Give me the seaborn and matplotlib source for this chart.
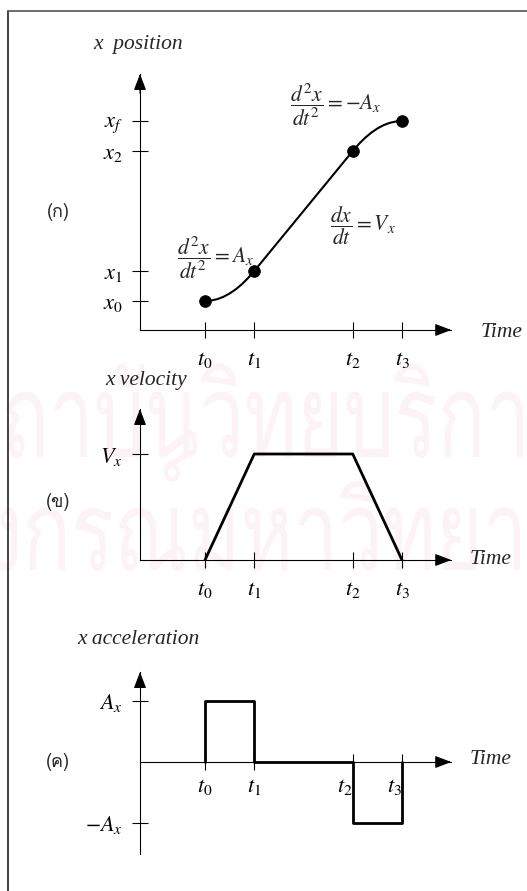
import matplotlib
matplotlib.use("Agg")
import matplotlib.pyplot as plt
from matplotlib import font_manager
from matplotlib.ft2font import FT2Font
from matplotlib.lines import Line2D
from matplotlib.textpath import TextPath
from matplotlib.patches import PathPatch
from matplotlib.transforms import Affine2D, IdentityTransform
import seaborn as sns

# Time instants of the motion profile
t_names = [r"$t_0$", r"$t_1$", r"$t_2$", r"$t_3$"]
t_points = [0.0, 1.0, 3.0, 4.0]

# (a) position: accelerating arc, constant-velocity line, decelerating arc
pos_t = [0.0, 0.125, 0.25, 0.375, 0.5, 0.625, 0.75, 0.875, 1.0,
         3.0, 3.125, 3.25, 3.375, 3.5, 3.625, 3.75, 3.875, 4.0]
pos_x = [0.0, 0.008, 0.031, 0.07, 0.125, 0.195, 0.281, 0.383, 0.5,
         2.5, 2.617, 2.719, 2.805, 2.875, 2.93, 2.969, 2.992, 3.0]
pos_levels = [0.0, 0.5, 2.5, 3.0]
pos_names = [r"$x_0$", r"$x_1$", r"$x_2$", r"$x_f$"]

# (b) velocity trapezoid
vel_t = [0.0, 1.0, 3.0, 4.0]
vel_v = [0.0, 1.0, 1.0, 0.0]
vel_levels = [1.0]
vel_names = [r"$V_x$"]

# (c) acceleration pulses
acc_t = [0.0, 0.0, 1.0, 1.0, 3.0, 3.0, 4.0, 4.0]
acc_a = [0.0, 1.0, 1.0, 0.0, 0.0, -1.0, -1.0, 0.0]
acc_levels = [1.0, -1.0]
acc_names = [r"$A_x$", r"$-A_x$"]

panel_tags = ["(ก)", "(ข)", "(ค)"]
panel_titles = ["x  position", "x velocity", "x acceleration"]
watermark_lines = ["สถาบันวิทยบริการ", "จุฬาลงกรณ์มหาวิทยาลัย"]


def thai_family(preferred=("Loma", "Anuphan", "FreeSerif")):
    found = []
    for f in font_manager.fontManager.ttflist:
        try:
            if FT2Font(f.fname).get_char_index(ord("ก")):
                found.append(f.name)
        except Exception:
            pass
    for name in preferred:
        if name in found:
            return name
    return found[0] if found else "DejaVu Sans"


sns.set_style("white")
plt.rcParams["mathtext.fontset"] = "stix"
plt.rcParams["font.family"] = ["DejaVu Sans"]
THAI = thai_family()

W, H = 527, 891
fig = plt.figure(figsize=(W / 100, H / 100), dpi=100)
fig.patch.set_facecolor("white")

# pale library watermark behind the diagrams, drawn as tall condensed glyphs
wm_prop = font_manager.FontProperties(family=THAI)
ref_box = TextPath((0, 0), "นนนนนนนนนน", size=1, prop=wm_prop).get_extents()
sx = 54.0 / (ref_box.width / 10)
for text, prefix, anchor_px, base_px, body_px in [
        (watermark_lines[0], "สถาบันวิทยบริกา", 523, 457, 66),
        (watermark_lines[1], "จุฬาลง", 17, 570, 63)]:
    sy = body_px / ref_box.height
    pre_w = TextPath((0, 0), prefix, size=1, prop=wm_prop).get_extents().x1 * sx
    x0 = anchor_px - pre_w
    path = TextPath((0, 0), text, size=1, prop=wm_prop)
    tr = Affine2D().scale(sx, sy).translate(x0, H - base_px) + IdentityTransform()
    fig.add_artist(PathPatch(path, transform=tr, facecolor="#fdf3f6",
                             edgecolor="none", zorder=-10))

T0_PX, PX_PER_T = 205.0, 49.25
X_LEFT, X_RIGHT = 140.0, 470.0
T_ARROW = 5.0
xlim = ((X_LEFT - T0_PX) / PX_PER_T, (X_RIGHT - T0_PX) / PX_PER_T)


def make_axes(top_px, bottom_px, zero_px, px_per_unit):
    ax = fig.add_axes([X_LEFT / W, 1 - bottom_px / H,
                       (X_RIGHT - X_LEFT) / W, (bottom_px - top_px) / H])
    ax.set_facecolor("none")
    ax.set_xlim(*xlim)
    ax.set_ylim((zero_px - bottom_px) / px_per_unit, (zero_px - top_px) / px_per_unit)
    return ax


def style_axes(ax, y_base, ylevels, ynames):
    for side in ("top", "right"):
        ax.spines[side].set_visible(False)
    for side in ("left", "bottom"):
        ax.spines[side].set_color("black")
        ax.spines[side].set_linewidth(0.8)
    ax.spines["bottom"].set_position(("data", y_base))
    ax.spines["bottom"].set_bounds(xlim[0], T_ARROW)
    ax.set_xticks(t_points, t_names)
    ax.set_yticks(ylevels, ynames)
    ax.tick_params(axis="both", direction="inout", length=11, width=0.8,
                   colors="black", labelsize=16, bottom=True, left=True)
    ax.tick_params(axis="x", pad=9)
    ax.tick_params(axis="y", pad=7)
    y0, y1 = ax.get_ylim()
    head = dict(arrowstyle="-|>,head_length=1.0,head_width=0.38",
                color="black", lw=0.8, shrinkA=0, shrinkB=0)
    ax.annotate("", xy=(T_ARROW, y_base), xytext=(T_ARROW - 0.3, y_base),
                arrowprops=head, annotation_clip=False)
    ax.annotate("", xy=(xlim[0], y1), xytext=(xlim[0], y1 - 0.3 * (y1 - y0) / 4),
                arrowprops=head, annotation_clip=False)


def fig_text(x, y, s, **kw):
    fig.text(x / W, 1 - y / H, s, **kw)


serif_it = dict(family="Liberation Serif", style="italic", fontsize=15.5, va="center")

# (a) position
ax1 = make_axes(74, 330, 301, 60)
style_axes(ax1, ax1.get_ylim()[0], pos_levels, pos_names)
sns.lineplot(x=pos_t, y=pos_x, ax=ax1, sort=False,
             estimator=None, color="black", lw=1.5)
sns.scatterplot(x=t_points, y=pos_levels, ax=ax1, s=70, color="black",
                edgecolor="black", zorder=5, clip_on=False)
ax1.text(1.73, 3.28, r"$\dfrac{d^2x}{dt^2}=-A_x$", fontsize=15.5, va="center")
ax1.text(2.54, 1.25, r"$\dfrac{dx}{dt}=V_x$", fontsize=15.5, va="center")
ax1.text(-0.57, 0.73, r"$\dfrac{d^2x}{dt^2}=A_x$", fontsize=15.5, va="center")

# (b) velocity
ax2 = make_axes(409, 560, 560, 106)
style_axes(ax2, 0.0, vel_levels, vel_names)
sns.lineplot(x=vel_t, y=vel_v, ax=ax2, sort=False, estimator=None,
             color="black", lw=2.0)

# (c) acceleration
ax3 = make_axes(672, 854, 762, 61)
style_axes(ax3, 0.0, acc_levels, acc_names)
sns.lineplot(x=acc_t, y=acc_a, ax=ax3, sort=False, estimator=None,
             color="black", lw=2.0)
ax3.tick_params(axis="x", pad=5)
for lab in ax3.get_xticklabels()[2:]:
    lab.set_horizontalalignment("right")

for (tx, ty), s in zip([(58, 212), (58, 502), (58, 762)], panel_tags):
    fig_text(tx, ty, s, family=[THAI, "DejaVu Sans"], fontsize=13,
             ha="center", va="center")
for (tx, ty), s in zip([(93, 45), (105, 380), (77, 639)], panel_titles):
    fig_text(tx, ty, s, ha="left", **serif_it)
for tx, ty in [(481, 332), (470, 560), (470, 760)]:
    fig_text(tx, ty, "Time", ha="left", **serif_it)

# page frame
fig.add_artist(Line2D([8 / W, 8 / W], [0, 1 - 11 / H], color="#222222", lw=1.2))
fig.add_artist(Line2D([8 / W, 1], [1 - 11 / H, 1 - 11 / H], color="#555555", lw=1.2))

fig.savefig("out.png", dpi=100)
